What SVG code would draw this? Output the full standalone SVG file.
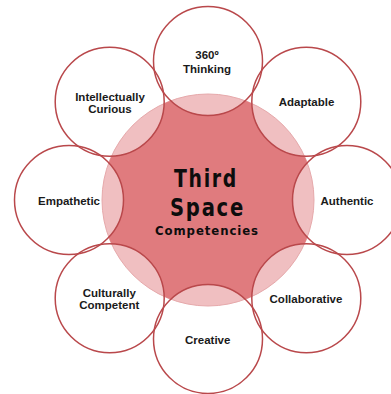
<svg xmlns="http://www.w3.org/2000/svg" width="391" height="394" viewBox="0 0 391 394">
<style>
.ring{fill:none;stroke:#b9484b;stroke-width:1.5}
.lbl{font-family:"Liberation Sans",Arial,sans-serif;font-weight:bold;font-size:11.5px;fill:#1a1a1a;text-anchor:middle}
.big{font-family:"DejaVu Sans Condensed","Liberation Sans Narrow","Liberation Sans",sans-serif;font-weight:900;fill:#0d0d0d;text-anchor:middle}
</style>
<defs>
<mask id="hole" maskUnits="userSpaceOnUse" x="0" y="0" width="391" height="394">
<rect x="0" y="0" width="391" height="394" fill="#fff"/>
<circle cx="208" cy="61" r="54.5" fill="#000"/>
<circle cx="306.3" cy="101.7" r="54.5" fill="#000"/>
<circle cx="347" cy="200" r="54.5" fill="#000"/>
<circle cx="306.3" cy="298.3" r="54.5" fill="#000"/>
<circle cx="208" cy="339" r="54.5" fill="#000"/>
<circle cx="109.7" cy="298.3" r="54.5" fill="#000"/>
<circle cx="69" cy="200" r="54.5" fill="#000"/>
<circle cx="109.7" cy="101.7" r="54.5" fill="#000"/>
</mask>
</defs>
<rect x="0" y="0" width="391" height="394" fill="#ffffff"/>
<g id="hub">
<circle cx="208" cy="200" r="106" fill="#f0bfc1" stroke="#e6a9ab" stroke-width="1"/>
<circle cx="208" cy="200" r="106" fill="#e07b7e" mask="url(#hole)"/>
</g>
<g id="connectors"></g>
<g id="n-thinking"><circle class="ring" cx="208" cy="61" r="54.5"/><text class="lbl" x="207" y="58.5">360º</text><text class="lbl" x="207" y="72.5">Thinking</text></g>
<g id="n-adaptable"><circle class="ring" cx="306.3" cy="101.7" r="54.5"/><text class="lbl" x="306.5" y="106">Adaptable</text></g>
<g id="n-authentic"><circle class="ring" cx="347" cy="200" r="54.5"/><text class="lbl" x="347" y="205">Authentic</text></g>
<g id="n-collaborative"><circle class="ring" cx="306.3" cy="298.3" r="54.5"/><text class="lbl" x="306" y="303.3">Collaborative</text></g>
<g id="n-creative"><circle class="ring" cx="208" cy="339" r="54.5"/><text class="lbl" x="207.7" y="344.3">Creative</text></g>
<g id="n-culturally"><circle class="ring" cx="109.7" cy="298.3" r="54.5"/><text class="lbl" x="109.3" y="297.3">Culturally</text><text class="lbl" x="109.3" y="309.3">Competent</text></g>
<g id="n-empathetic"><circle class="ring" cx="69" cy="200" r="54.5"/><text class="lbl" x="69" y="204.5">Empathetic</text></g>
<g id="n-curious"><circle class="ring" cx="109.7" cy="101.7" r="54.5"/><text class="lbl" x="110" y="100.7">Intellectually</text><text class="lbl" x="110" y="112.7">Curious</text></g>
<g id="n-center">
<text class="big" x="206" y="186.5" font-size="25" letter-spacing="2" textLength="64" lengthAdjust="spacingAndGlyphs">Third</text>
<text class="big" x="207.5" y="216" font-size="25" letter-spacing="2" textLength="75" lengthAdjust="spacingAndGlyphs">Space</text>
<text class="big" x="206.5" y="234.5" font-size="13" textLength="103" lengthAdjust="spacing">Competencies</text>
</g>
</svg>
